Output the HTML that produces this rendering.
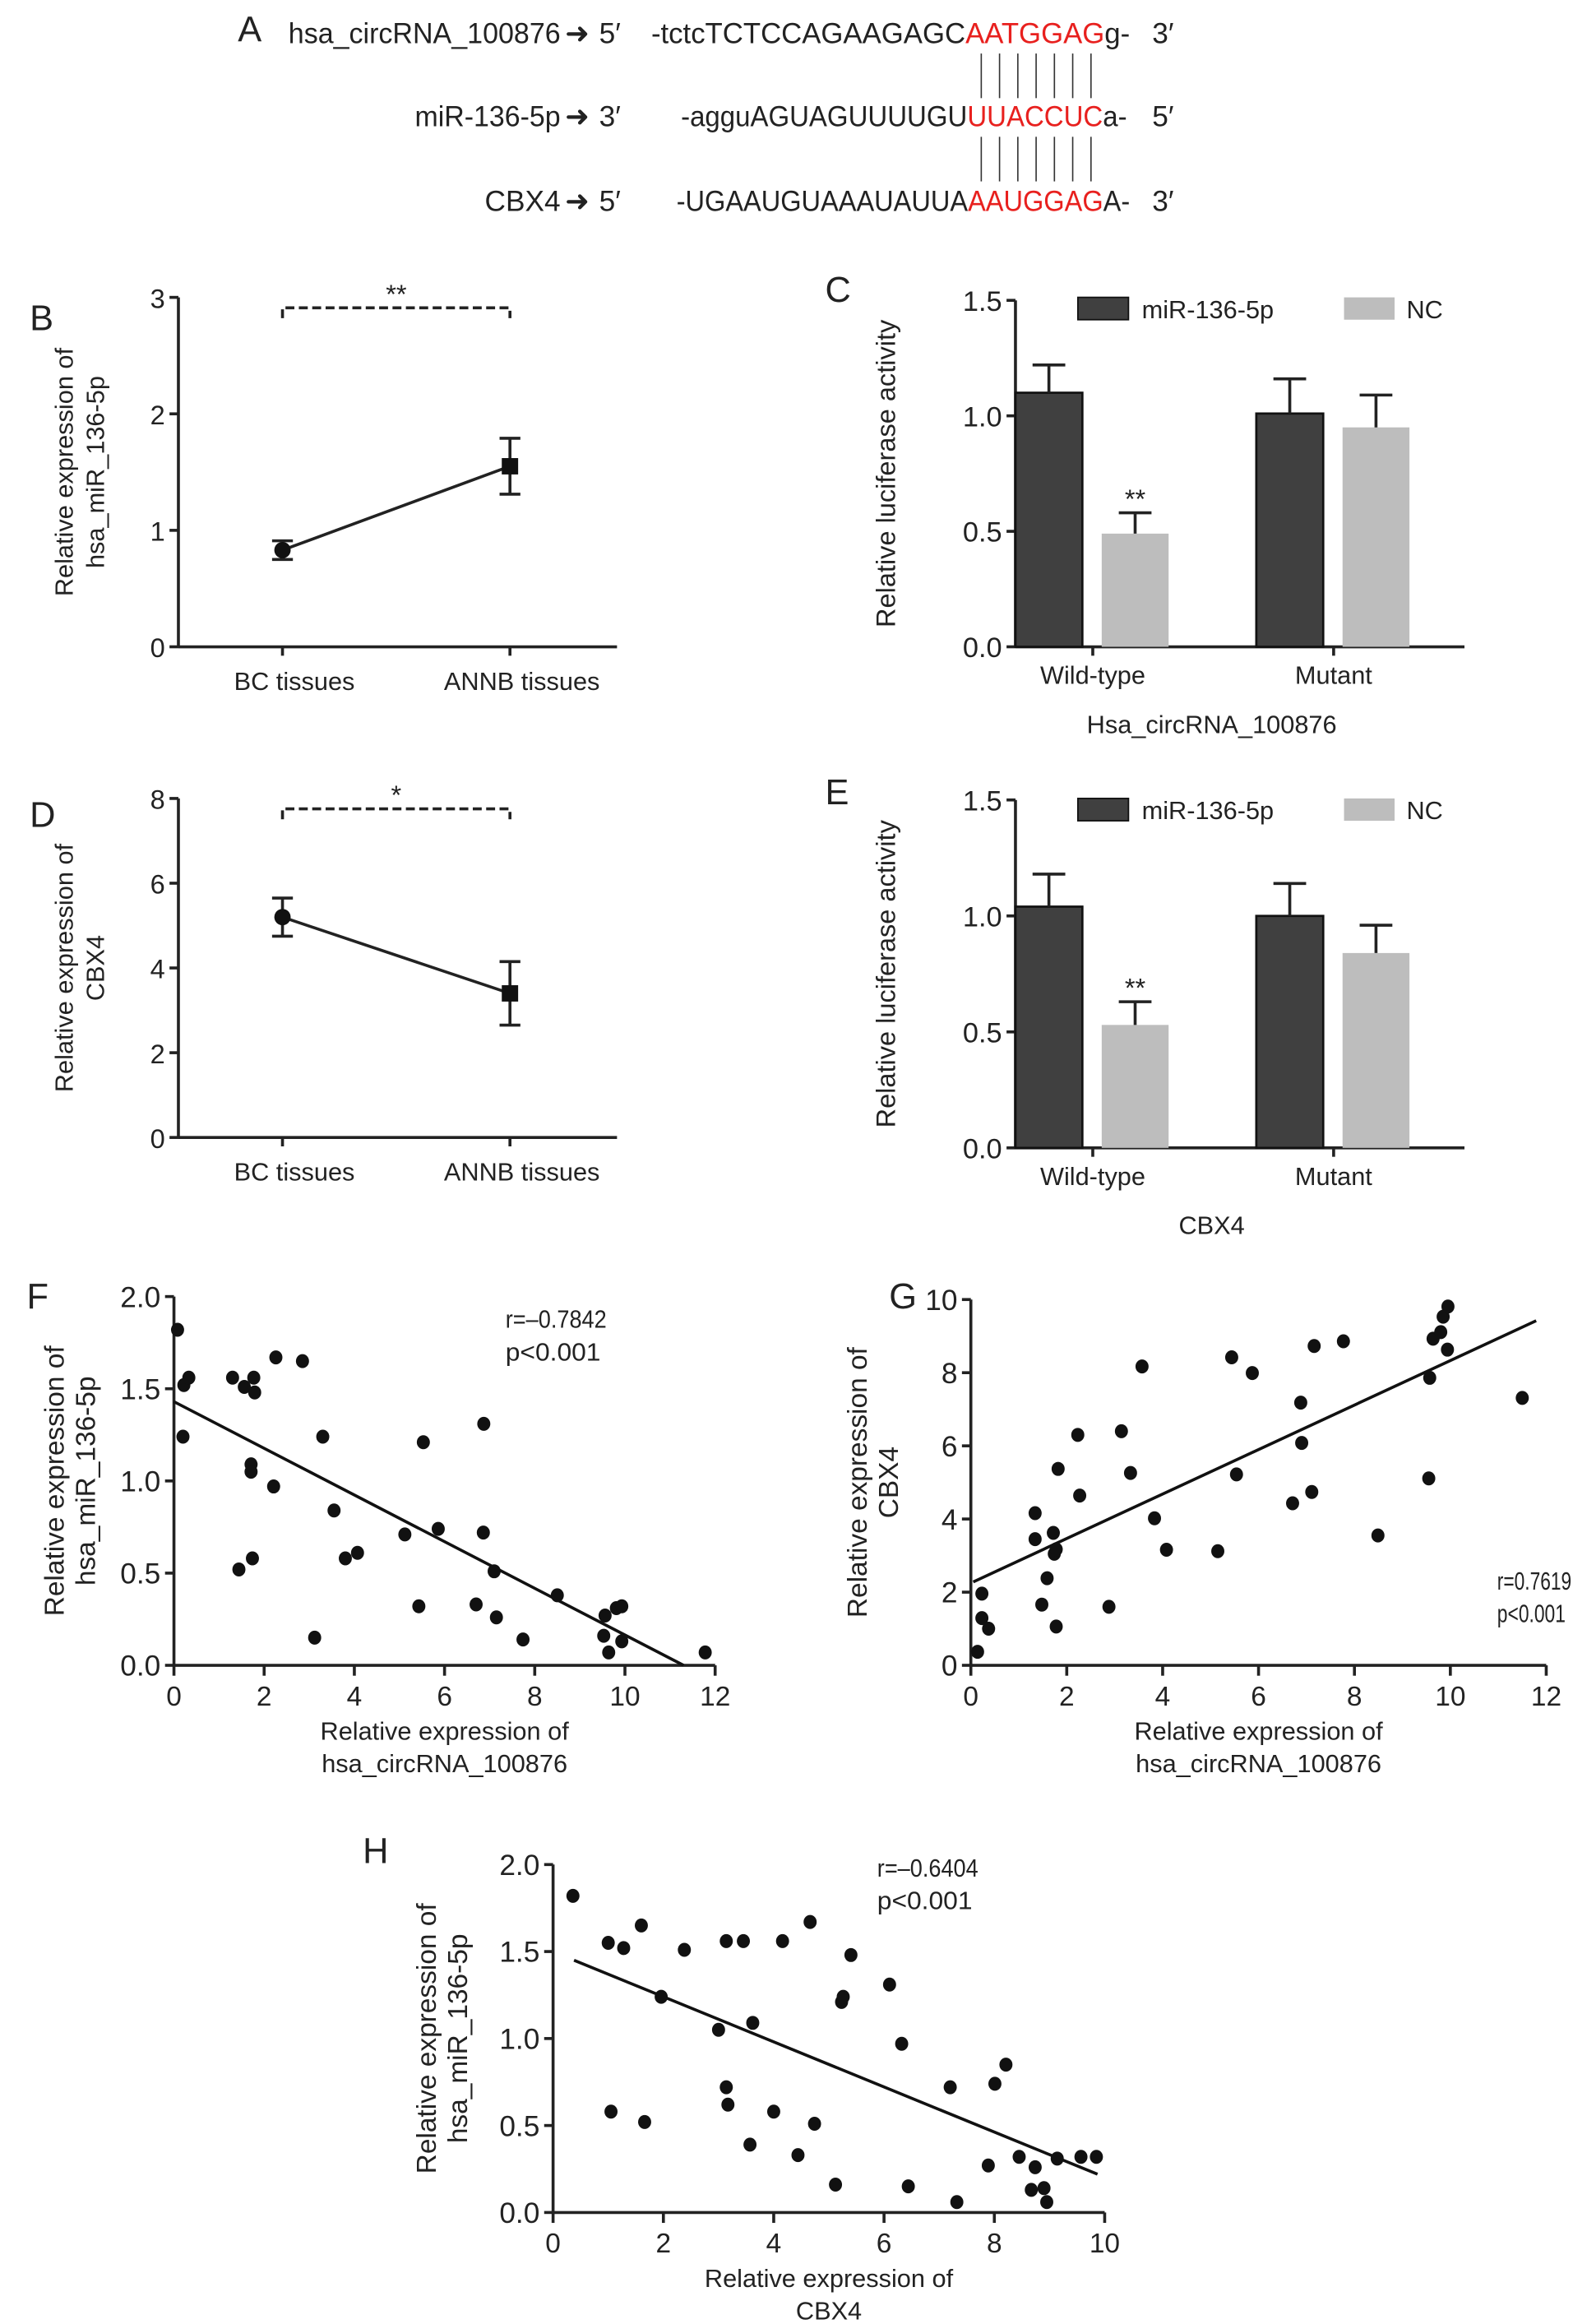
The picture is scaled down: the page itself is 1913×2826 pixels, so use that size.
<!DOCTYPE html>
<html><head><meta charset="utf-8">
<style>
html,body{margin:0;padding:0;background:#fff;}
svg{display:block;font-family:"Liberation Sans",Arial,sans-serif;}
text{fill:#222;}
</style></head>
<body>
<svg id="fig" width="1913" height="2826" viewBox="0 0 1058 1563" preserveAspectRatio="none" xmlns="http://www.w3.org/2000/svg">
<g font-size="19.5">
  <text x="160" y="28" font-size="24">A</text>
  <text x="377" y="29" text-anchor="end" textLength="183" lengthAdjust="spacingAndGlyphs">hsa_circRNA_100876</text>
  <text x="380" y="29">➜</text>
  <text x="403" y="29">5′</text>
  <text x="438" y="29" textLength="322" lengthAdjust="spacingAndGlyphs">-tctcTCTCCAGAAGAGC<tspan fill="#e8201e">AATGGAG</tspan>g-</text>
  <text x="775" y="29">3′</text>
  <text x="377" y="85" text-anchor="end" textLength="98" lengthAdjust="spacingAndGlyphs">miR-136-5p</text>
  <text x="380" y="85">➜</text>
  <text x="403" y="85">3′</text>
  <text x="458" y="85" textLength="300" lengthAdjust="spacingAndGlyphs">-agguAGUAGUUUUGU<tspan fill="#e8201e">UUACCUC</tspan>a-</text>
  <text x="775" y="85">5′</text>
  <text x="377" y="142" text-anchor="end">CBX4</text>
  <text x="380" y="142">➜</text>
  <text x="403" y="142">5′</text>
  <text x="455" y="142" textLength="305" lengthAdjust="spacingAndGlyphs">-UGAAUGUAAAUAUUA<tspan fill="#e8201e">AAUGGAG</tspan>A-</text>
  <text x="775" y="142">3′</text>
  <g id="pairs" stroke="#333" stroke-width="0.9"></g>
</g>
<g id="plots"></g>
</svg>
<script>
// ---------- data ----------
const lineCats = ["BC tissues", "ANNB tissues"];
const bMeans = [0.83, 1.55];
const bErrs = [0.08, 0.24];
const dMeans = [5.2, 3.4];
const dErrs = [0.45, 0.75];
const barGroups = ["Wild-type", "Mutant"];
const cMir = [1.10, 1.01];
const cMirErr = [0.12, 0.15];
const cNC = [0.49, 0.95];
const cNCErr = [0.09, 0.14];
const eMir = [1.04, 1.00];
const eMirErr = [0.14, 0.14];
const eNC = [0.53, 0.84];
const eNCErr = [0.10, 0.12];
const fX = [0.08,0.22,0.33,0.2,1.3,1.56,1.77,1.79,2.26,2.85,1.71,1.71,2.21,1.44,1.74,3.3,3.55,3.8,4.07,3.12,5.12,5.53,5.86,5.43,6.87,6.86,7.1,6.7,7.15,7.74,8.5,9.56,9.53,9.64,9.81,9.93,9.93,11.78];
const fY = [1.82,1.52,1.56,1.24,1.56,1.51,1.56,1.48,1.67,1.65,1.09,1.05,0.97,0.52,0.58,1.24,0.84,0.58,0.61,0.15,0.71,1.21,0.74,0.32,1.31,0.72,0.51,0.33,0.26,0.14,0.38,0.27,0.16,0.07,0.31,0.32,0.13,0.07];
const fFit = [0, 1.43, 11.3, 0];
const gX = [0.14,0.23,0.23,0.37,1.34,1.34,1.48,1.59,1.72,1.74,1.78,1.82,1.78,2.23,2.27,2.88,3.14,3.33,3.57,3.83,4.08,5.15,5.44,5.54,5.87,6.71,6.88,6.9,7.11,7.16,7.77,8.49,9.55,9.57,9.64,9.8,9.85,9.95,9.94,11.5];
const gY = [0.37,1.96,1.29,1.0,4.16,3.45,1.66,2.38,3.62,3.05,3.17,5.37,1.06,6.3,4.64,1.6,6.4,5.26,8.17,4.02,3.16,3.12,8.42,5.22,7.99,4.43,7.18,6.08,4.74,8.73,8.86,3.55,5.11,7.86,8.93,9.11,9.53,9.81,8.63,7.31];
const gFit = [0.05, 2.28, 11.79, 9.42];
const hX = [0.36,1.0,1.28,1.6,2.38,1.96,1.05,1.66,3.14,3.45,4.16,4.66,5.4,3.0,3.62,3.14,3.17,3.57,4.0,4.44,4.74,5.12,5.23,5.26,6.1,6.32,6.44,7.2,7.32,7.89,8.01,8.21,8.45,8.67,8.74,8.9,8.95,9.14,9.57,9.85];
const hY = [1.82,1.55,1.52,1.65,1.51,1.24,0.58,0.52,1.56,1.56,1.56,1.67,1.48,1.05,1.09,0.72,0.62,0.39,0.58,0.33,0.51,0.16,1.21,1.24,1.31,0.97,0.15,0.72,0.06,0.27,0.74,0.85,0.32,0.13,0.26,0.14,0.06,0.31,0.32,0.32];
const hFit = [0.38, 1.45, 9.87, 0.22];

const NS = "http://www.w3.org/2000/svg";
const root = document.getElementById("plots");
function mk(tag, attrs, parent, txt){
  const e = document.createElementNS(NS, tag);
  for (const k in attrs) e.setAttribute(k, attrs[k]);
  if (txt !== undefined) e.textContent = txt;
  (parent || root).appendChild(e);
  return e;
}
function scale(d0,d1,r0,r1){ return v => r0 + (v-d0)/(d1-d0)*(r1-r0); }

const pairs = document.getElementById("pairs");
for (let i=0;i<7;i++){
  const x = 660 + i*12.3;
  const l1 = mk("line",{x1:x,y1:36,x2:x,y2:66},pairs);
  
  
  const l2 = mk("line",{x1:x,y1:92,x2:x,y2:122},pairs);
  
  
}

function yAxis(g, x, ys, ticks, labels, fs){
  const ax = mk("line",{x1:x,y1:ys(ticks[ticks.length-1]),x2:x,y2:ys(ticks[0]),stroke:"#222","stroke-width":2},g);
  
  
  ticks.forEach((t,i)=>{
    mk("line",{x1:x-6,y1:ys(t),x2:x,y2:ys(t),stroke:"#222","stroke-width":2},g);
    const tl = mk("text",{x:x-9,y:ys(t)+7,"text-anchor":"end","font-size":fs||19},g,labels[i]);
    
    
  });
}
function xAxisLine(g, x1, x2, y){
  const ax = mk("line",{x1:x1,y1:y,x2:x2,y2:y,stroke:"#222","stroke-width":2},g);
  
  
}
function ylabel(g, x, y, lines, fs){
  const t = mk("text",{transform:`translate(${x},${y}) rotate(-90)`,"text-anchor":"middle","font-size":fs||17},g);
  
  
  lines.forEach((s,i)=>{ mk("tspan",{x:0,dy:i===0?0:21},t,s); });
}
function letter(g, x, y, s){
  const t = mk("text",{x:x,y:y,"font-size":24},g,s);
  
  
}

function linePanel(name, L, top, y0px, ymaxPx, ymax, tickStep, means, errs, star, ytitle){
  const g = mk("g",{});
  
  
  const ys = scale(0, ymax, y0px, ymaxPx);
  const xs = [190, 343];
  letter(g, 20, top, L);
  const ticks=[], labs=[];
  for (let v=0; v<=ymax+1e-9; v+=tickStep){ ticks.push(v); labs.push(String(v)); }
  yAxis(g, 120, ys, ticks, labs, 18);
  xAxisLine(g, 120, 415, y0px);
  xs.forEach((x,i)=>{
    mk("line",{x1:x,y1:y0px,x2:x,y2:y0px+6,stroke:"#222","stroke-width":2},g);
    const t = mk("text",{x:x+8,y:y0px+29,"text-anchor":"middle","font-size":17},g,lineCats[i]);
    
    
  });
  const ln = mk("line",{x1:xs[0],y1:ys(means[0]),x2:xs[1],y2:ys(means[1]),stroke:"#222","stroke-width":2},g);
  
  
  means.forEach((m,i)=>{
    const x=xs[i];
    const eb = mk("path",{d:`M${x-7},${ys(m+errs[i])}H${x+7}M${x},${ys(m+errs[i])}V${ys(m-errs[i])}M${x-7},${ys(m-errs[i])}H${x+7}`,stroke:"#222","stroke-width":2,fill:"none"},g);
    
    
    let p;
    if (i===0) p = mk("circle",{cx:x,cy:ys(m),r:5.5,fill:"#111"},g);
    else p = mk("rect",{x:x-5.5,y:ys(m)-5.5,width:11,height:11,fill:"#111"},g);
    
    
  });
  const by = ymaxPx + 7;
  const br = mk("path",{d:`M${xs[0]},${by+7}V${by}H${xs[1]}V${by+7}`,stroke:"#222","stroke-width":2,fill:"none","stroke-dasharray":"6,3"},g);
  
  
  const st = mk("text",{x:(xs[0]+xs[1])/2,y:by-3,"text-anchor":"middle","font-size":18},g,star);
  
  
  ylabel(g, 49, (y0px+ymaxPx)/2, ytitle, 17);
}
linePanel("panel-b","B",222,435,200,3,1,bMeans,bErrs,"**",["Relative expression of","hsa_miR_136-5p"]);
linePanel("panel-d","D",556,765,537,8,2,dMeans,dErrs,"*",["Relative expression of","CBX4"]);

function barPanel(name, L, top, y0px, ymaxPx, mir, mirE, nc, ncE, legY, labY, sub){
  const g = mk("g",{});
  
  
  const ys = scale(0,1.5,y0px,ymaxPx);
  letter(g, 555, top, L);
  yAxis(g, 683, ys, [0,0.5,1.0,1.5], ["0.0","0.5","1.0","1.5"], 19);
  xAxisLine(g, 683, 985, y0px);
  const gx = [735, 897];
  gx.forEach((x,i)=>{
    mk("line",{x1:x,y1:y0px,x2:x,y2:y0px+6,stroke:"#222","stroke-width":2},g);
    const t = mk("text",{x:x,y:labY,"text-anchor":"middle","font-size":17},g,barGroups[i]);
    
    
    const xd = x-52, xl = x+6, w=45;
    const b1 = mk("rect",{x:xd,y:ys(mir[i]),width:w,height:y0px-ys(mir[i]),fill:"#404040",stroke:"#111","stroke-width":1.5},g);
    
    
    const e1 = mk("path",{d:`M${xd+w/2},${ys(mir[i])}V${ys(mir[i]+mirE[i])}M${xd+w/2-11},${ys(mir[i]+mirE[i])}H${xd+w/2+11}`,stroke:"#222","stroke-width":2},g);
    
    
    const b2 = mk("rect",{x:xl,y:ys(nc[i]),width:w,height:y0px-ys(nc[i]),fill:"#bdbdbd"},g);
    
    
    const e2 = mk("path",{d:`M${xl+w/2},${ys(nc[i])}V${ys(nc[i]+ncE[i])}M${xl+w/2-11},${ys(nc[i]+ncE[i])}H${xl+w/2+11}`,stroke:"#222","stroke-width":2},g);
    
    
    if (i===0){
      const st = mk("text",{x:xl+w/2,y:ys(nc[i]+ncE[i])-3,"text-anchor":"middle","font-size":18},g,"**");
      
      
    }
  });
  const lg1 = mk("rect",{x:725,y:legY-8,width:34,height:15,fill:"#404040",stroke:"#111","stroke-width":1},g);
  
  
  const lt1 = mk("text",{x:768,y:legY+6,"font-size":17},g,"miR-136-5p");
  
  
  const lg2 = mk("rect",{x:904,y:legY-8,width:34,height:15,fill:"#bdbdbd"},g);
  
  
  const lt2 = mk("text",{x:946,y:legY+6,"font-size":17},g,"NC");
  
  
  const s = mk("text",{x:815,y:labY+33,"text-anchor":"middle","font-size":17},g,sub);
  
  
  ylabel(g, 602, (y0px+ymaxPx)/2, ["Relative luciferase activity"], 18);
}
barPanel("panel-c","C",203,435,202,cMir,cMirErr,cNC,cNCErr,208,460,"Hsa_circRNA_100876");
barPanel("panel-e","E",541,772,538,eMir,eMirErr,eNC,eNCErr,545,797,"CBX4");

function scatter(name, L, lx, ly, ax0, ax1, xmax, xstep, y0px, y1px, ymax, ystep, yfmt, X, Y, fit, rtxt, rx, ry, rlen, xt, ytTitle, yx){
  const g = mk("g",{});
  
  
  const xs = scale(0,xmax,ax0,ax1), ys = scale(0,ymax,y0px,y1px);
  letter(g, lx, ly, L);
  const yt=[], yl=[];
  for (let v=0; v<=ymax+1e-9; v+=ystep){ yt.push(v); yl.push(v.toFixed(yfmt)); }
  yAxis(g, ax0, ys, yt, yl, 19.5);
  xAxisLine(g, ax0, ax1, y0px);
  for (let v=0; v<=xmax+1e-9; v+=xstep){
    mk("line",{x1:xs(v),y1:y0px,x2:xs(v),y2:y0px+7,stroke:"#222","stroke-width":2},g);
    const t = mk("text",{x:xs(v),y:y0px+27,"text-anchor":"middle","font-size":18.5},g,String(v));
    
    
  }
  const fl = mk("line",{x1:xs(fit[0]),y1:ys(fit[1]),x2:xs(fit[2]),y2:ys(fit[3]),stroke:"#111","stroke-width":2},g);
  
  
  X.forEach((x,i)=>{
    const c = mk("ellipse",{cx:xs(x),cy:ys(Y[i]),rx:4.4,ry:4.7,fill:"#111"},g);
    
    
  });
  const r1 = mk("text",{x:rx,y:ry,"font-size":17,textLength:rlen,lengthAdjust:"spacingAndGlyphs"},g,rtxt);
  
  
  const r2 = mk("text",{x:rx,y:ry+22,"font-size":17,textLength:rlen-4,lengthAdjust:"spacingAndGlyphs"},g,"p<0.001");
  
  
  const xtitle = mk("text",{"text-anchor":"middle","font-size":17},g);
  
  
  xt.forEach((s,i)=>{ mk("tspan",{x:(ax0+ax1)/2,y:y0px+50+i*22},xtitle,s); });
  ylabel(g, yx, (y0px+y1px)/2, ytTitle, 18.5);
}
scatter("panel-f","F",18,880,117,481,12,2,1120,872,2.0,0.5,1,fX,fY,fFit,"r=\u20130.7842",340,893,68,["Relative expression of","hsa_circRNA_100876"],["Relative expression of","hsa_miR_136-5p"],43);
scatter("panel-g","G",598,880,653,1040,12,2,1120,874,10,2,0,gX,gY,gFit,"r=0.7619",1007,1069,50,["Relative expression of","hsa_circRNA_100876"],["Relative expression of","CBX4"],583);
scatter("panel-h","H",244,1253,372,743,10,2,1488,1254,2.0,0.5,1,hX,hY,hFit,"r=\u20130.6404",590,1262,68,["Relative expression of","CBX4"],["Relative expression of","hsa_miR_136-5p"],293);
</script>
</body></html>
